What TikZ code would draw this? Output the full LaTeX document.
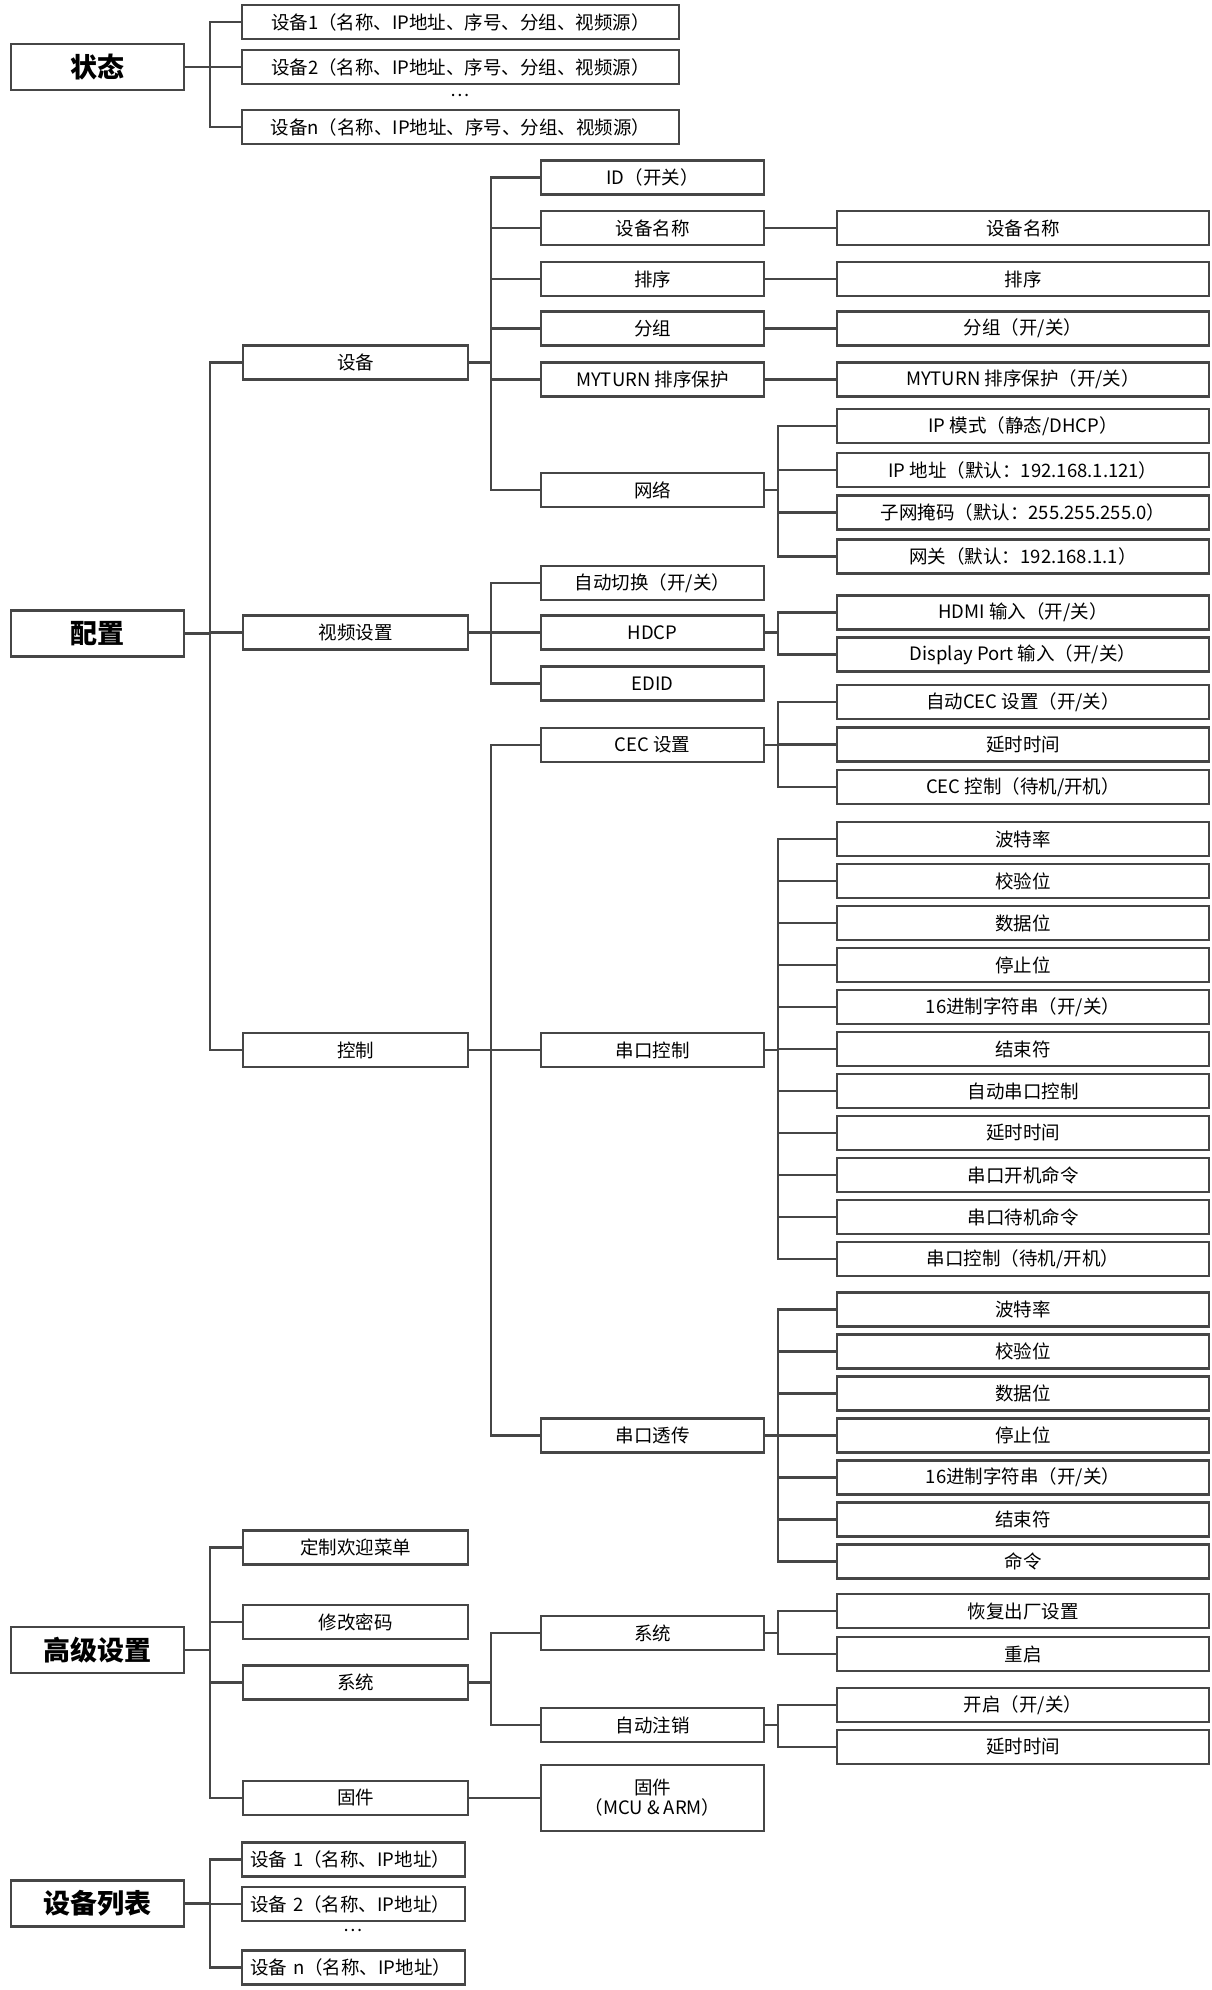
\documentclass[tikz,border=0pt]{standalone}
\usepackage{fontspec}
\setmainfont{Noto Sans CJK SC}
\usepackage{tikz}
\usetikzlibrary{positioning, calc}
\definecolor{lineGray}{RGB}{70, 70, 70}
\tikzset{
    box/.style={
        draw=lineGray, line width=2.2pt, fill=white, inner sep=0pt,
        minimum height=34pt, font=\fontsize{18.5}{20}\selectfont, text=black
    },
    mainbox/.style={
        box, minimum width=173pt, minimum height=46pt,
        font=\fontsize{27}{30}\selectfont\bfseries
    },
    statbox/.style={box, minimum width=437pt},
    lvtwo/.style={box, minimum width=225pt},
    lvthree/.style={box, minimum width=223pt},
    lvfour/.style={box, minimum width=372pt},
    devbox/.style={box, text width=207pt, align=left, inner xsep=8pt},
    dots/.style={font=\fontsize{18}{20}\selectfont, text=black},
    link/.style={draw=lineGray, line width=2.2pt}
}
% nối cha với các con qua một thanh dọc
\newcommand{\branch}[3]{
    \foreach \c in {#3}{
        \draw[link] (#1.east) -- (#1.east -| #2) |- (\c.west);
    }
}

\begin{document}
\begin{tikzpicture}[x=1pt, y=-1pt]
    \useasboundingbox (0,0) rectangle (1212,1990);
    % --- THANH DỌC ---
    \coordinate (b1) at (210,0);
    \coordinate (b2) at (491,0);
    \coordinate (b3) at (778,0);

    % --- CỘT 1 ---
    \node[mainbox] (stat)  at (97.5,67)     {状态};
    \node[mainbox] (conf)  at (97.5,633.5)  {配置};
    \node[mainbox] (adv)   at (97.5,1650)   {高级设置};
    \node[mainbox] (dlist) at (97.5,1903.5) {设备列表};

    % --- 状态 ---
    \node[statbox] (s1) at (460.5,22)  {设备1（名称、IP地址、序号、分组、视频源）};
    \node[statbox] (s2) at (460.5,67)  {设备2（名称、IP地址、序号、分组、视频源）};
    \node[dots]    (sd) at (460.5,95)  {…};
    \node[statbox] (sn) at (460.5,127) {设备n（名称、IP地址、序号、分组、视频源）};

    % --- 配置: cột 2 ---
    \node[lvtwo] (dev)   at (355.5,362.5) {设备};
    \node[lvtwo] (video) at (355.5,632.5) {视频设置};
    \node[lvtwo] (ctrl)  at (355.5,1050)  {控制};

    % 设备
    \node[lvthree] (id)     at (652.5,177.5) {ID（开关）};
    \node[lvthree] (dname)  at (652.5,228)   {设备名称};
    \node[lvthree] (sort)   at (652.5,279)   {排序};
    \node[lvthree] (group)  at (652.5,328.5) {分组};
    \node[lvthree] (myturn) at (652.5,379.5) {MYTURN 排序保护};
    \node[lvthree] (net)    at (652.5,490)   {网络};

    \node[lvfour] (dname2)  at (1023,228)   {设备名称};
    \node[lvfour] (sort2)   at (1023,279)   {排序};
    \node[lvfour] (group2)  at (1023,328.5) {分组（开/关）};
    \node[lvfour] (myturn2) at (1023,379.5) {MYTURN 排序保护（开/关）};
    \node[lvfour] (ipmode)  at (1023,426)   {IP 模式（静态/DHCP）};
    \node[lvfour] (ipaddr)  at (1023,470)   {IP 地址（默认：192.168.1.121）};
    \node[lvfour] (mask)    at (1023,512.5) {子网掩码（默认：255.255.255.0）};
    \node[lvfour] (gw)      at (1023,556.5) {网关（默认：192.168.1.1）};

    % 视频设置
    \node[lvthree] (auto) at (652.5,583)   {自动切换（开/关）};
    \node[lvthree] (hdcp) at (652.5,632.5) {HDCP};
    \node[lvthree] (edid) at (652.5,683.5) {EDID};

    \node[lvfour] (hdmi) at (1023,612.5) {HDMI 输入（开/关）};
    \node[lvfour] (dp)   at (1023,654.5) {Display Port 输入（开/关）};

    % 控制
    \node[lvthree] (cec)   at (652.5,745)    {CEC 设置};
    \node[lvthree] (uart)  at (652.5,1050)   {串口控制};
    \node[lvthree] (trans) at (652.5,1435.5) {串口透传};

    \node[lvfour] (autocec)  at (1023,702)   {自动CEC 设置（开/关）};
    \node[lvfour] (cecdelay) at (1023,744.5) {延时时间};
    \node[lvfour] (cecctrl)  at (1023,787)   {CEC 控制（待机/开机）};

    \foreach \t [count=\i] in {波特率, 校验位, 数据位, 停止位, 16进制字符串（开/关）,
        结束符, 自动串口控制, 延时时间, 串口开机命令, 串口待机命令, 串口控制（待机/开机）}
        \node[lvfour] (u\i) at (1023,{797+42*\i}) {\t};

    \foreach \t [count=\i] in {波特率, 校验位, 数据位, 停止位, 16进制字符串（开/关）,
        结束符, 命令}
        \node[lvfour] (t\i) at (1023,{1267.5+42*\i}) {\t};

    % --- 高级设置 ---
    \node[lvtwo] (welcome) at (355.5,1547.5) {定制欢迎菜单};
    \node[lvtwo] (pwd)     at (355.5,1622)   {修改密码};
    \node[lvtwo] (sys)     at (355.5,1682.5) {系统};
    \node[lvtwo] (fw)      at (355.5,1798)   {固件};

    \node[lvthree] (sysb)   at (652.5,1633) {系统};
    \node[lvthree] (logout) at (652.5,1725) {自动注销};
    \node[lvthree, minimum height=66pt, align=center] (fwb) at (652.5,1798)
        {固件\\（MCU \& ARM）};

    \node[lvfour] (reset)  at (1023,1611) {恢复出厂设置};
    \node[lvfour] (reboot) at (1023,1654) {重启};
    \node[lvfour] (on)     at (1023,1705) {开启（开/关）};
    \node[lvfour] (delay)  at (1023,1747) {延时时间};

    % --- 设备列表 ---
    \node[devbox] (d1) at (353.5,1859.5) {设备 1（名称、IP地址）};
    \node[devbox] (d2) at (353.5,1904)   {设备 2（名称、IP地址）};
    \node[dots]   (dd) at (353.5,1930)   {…};
    \node[devbox] (dn) at (353.5,1967.5) {设备 n（名称、IP地址）};

    % --- ĐƯỜNG NỐI ---
    \branch{stat}{b1}{s1,s2,sn}
    \branch{conf}{b1}{dev,video,ctrl}
    \branch{adv}{b1}{welcome,pwd,sys,fw}
    \branch{dlist}{b1}{d1,d2,dn}

    \branch{dev}{b2}{id,dname,sort,group,myturn,net}
    \branch{video}{b2}{auto,hdcp,edid}
    \branch{ctrl}{b2}{cec,uart,trans}
    \branch{sys}{b2}{sysb,logout}
    \draw[link] (fw.east) -- (fwb.west);

    \draw[link] (dname.east) -- (dname2.west);
    \draw[link] (sort.east) -- (sort2.west);
    \draw[link] (group.east) -- (group2.west);
    \draw[link] (myturn.east) -- (myturn2.west);

    \branch{net}{b3}{ipmode,ipaddr,mask,gw}
    \branch{hdcp}{b3}{hdmi,dp}
    \branch{cec}{b3}{autocec,cecdelay,cecctrl}
    \branch{uart}{b3}{u1,u2,u3,u4,u5,u6,u7,u8,u9,u10,u11}
    \branch{trans}{b3}{t1,t2,t3,t4,t5,t6,t7}
    \branch{sysb}{b3}{reset,reboot}
    \branch{logout}{b3}{on,delay}
\end{tikzpicture}
\end{document}
